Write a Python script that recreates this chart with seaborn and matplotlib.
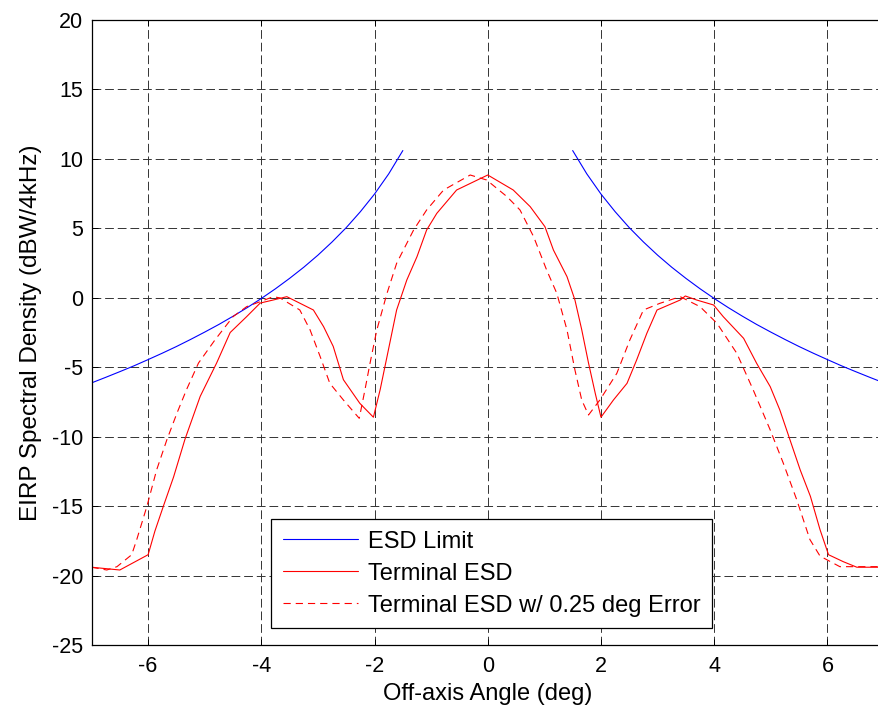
import matplotlib
matplotlib.use("Agg")
import matplotlib.pyplot as plt
import seaborn as sns

# ESD limit mask, read at positive off-axis angles (mirrored for negative side)
limit_angle = [1.5, 1.75, 2.0, 2.25, 2.5, 2.75, 3.0, 3.25, 3.5, 3.75, 4.0, 4.25,
               4.5, 4.75, 5.0, 5.25, 5.5, 5.75, 6.0, 6.25, 6.5, 6.75, 7.0]
limit_value = [10.60, 8.92, 7.47, 6.20, 5.05, 4.02, 3.07, 2.20, 1.40, 0.65, -0.05, -0.71,
               -1.33, -1.92, -2.47, -3.00, -3.51, -3.99, -4.45, -4.90, -5.32, -5.73, -6.13]

# Terminal ESD
term_angle = [-7.0, -6.5, -6.0, -5.88, -5.73, -5.55, -5.35, -5.08, -4.79, -4.55, -4.26,
              -4.02, -3.79, -3.55, -3.08, -2.9, -2.73, -2.55, -2.26, -2.02, -1.9, -1.78,
              -1.61, -1.43, -1.25, -1.08, -0.9, -0.55, 0.0, 0.45, 0.75, 1.01, 1.16, 1.4,
              1.54, 1.66, 1.78, 1.9, 2.0, 2.22, 2.46, 2.63, 2.81, 2.99, 3.4, 3.49, 3.69,
              3.99, 4.16, 4.52, 4.75, 4.99, 5.16, 5.34, 5.52, 5.7, 5.87, 6.02, 6.28, 6.52, 7.0]
term_value = [-19.4, -19.6, -18.5, -16.8, -15.0, -12.9, -10.2, -7.1, -4.7, -2.5, -1.36,
              -0.38, -0.16, 0.08, -0.88, -2.08, -3.5, -5.9, -7.6, -8.6, -6.6, -4.24,
              -0.88, 1.28, 2.96, 4.88, 6.08, 7.76, 8.84, 7.76, 6.56, 5.12, 3.44, 1.52,
              -0.16, -2.3, -4.7, -6.9, -8.6, -7.36, -6.16, -4.48, -2.56, -0.88, -0.16, 0.13, -0.16,
              -0.52, -1.36, -2.92, -4.72, -6.4, -8.08, -10.24, -12.4, -14.3, -16.7, -18.5, -19.0, -19.4, -19.4]

# Terminal ESD with 0.25 deg pointing error
err_angle = [-7.0, -6.73, -6.55, -6.29, -6.2, -6.02, -5.85, -5.67, -5.49, -5.32, -5.11,
             -4.82, -4.5, -4.26, -4.02, -3.79, -3.67, -3.32, -3.14, -2.96, -2.79, -2.55,
             -2.27, -2.17, -2.08, -1.96, -1.78, -1.61, -1.31, -1.08, -0.78, -0.31, -0.02,
             0.34, 0.57, 0.81, 1.04, 1.22, 1.4, 1.54, 1.66, 1.78, 1.98, 2.28, 2.51, 2.75,
             3.04, 3.4, 3.75, 4.05, 4.4, 4.69, 4.99, 5.22, 5.46, 5.69, 5.87, 6.22, 7.0]
err_value = [-19.4, -19.6, -19.36, -18.5, -17.4, -15.0, -12.4, -10.24, -8.3, -6.6, -4.7,
             -3.04, -1.36, -0.64, -0.28, 0.08, -0.01, -0.88, -2.3, -4.24, -6.16, -7.36,
             -8.68, -6.64, -4.72, -2.32, 0.32, 2.48, 4.88, 6.32, 7.76, 8.84, 8.48,
             7.28, 6.32, 4.4, 2.0, 0.32, -2.32, -5.2, -7.36, -8.44, -7.36, -5.44, -3.04, -0.88,
             -0.4, 0.08, -0.64, -1.84, -4.0, -6.64, -9.52, -11.9, -14.56, -17.4, -18.6, -19.36, -19.36]

x_ticks = [-6, -4, -2, 0, 2, 4, 6]
y_ticks = [-25, -20, -15, -10, -5, 0, 5, 10, 15, 20]

sns.set_style("ticks")
plt.rcParams["font.family"] = ["Liberation Sans", "DejaVu Sans"]
plt.rcParams["axes.unicode_minus"] = False
plt.rcParams["text.color"] = "black"
plt.rcParams["axes.labelcolor"] = "black"

fig = plt.figure(figsize=(8.79, 7.07), dpi=100)
ax = fig.add_axes([0.1041, 0.0877, 0.9016, 0.884])

sns.lineplot(x=[-a for a in limit_angle], y=limit_value, ax=ax, color="blue",
             lw=0.8, sort=False, estimator=None)
sns.lineplot(x=limit_angle, y=limit_value, ax=ax, color="blue", lw=0.8,
             sort=False, estimator=None, label="ESD Limit")
sns.lineplot(x=term_angle, y=term_value, ax=ax, color="red", lw=0.8,
             sort=False, estimator=None, label="Terminal ESD")
sns.lineplot(x=err_angle, y=err_value, ax=ax, color="red", lw=0.8,
             linestyle=(0, (6.5, 4.5)), sort=False, estimator=None,
             label="Terminal ESD w/ 0.25 deg Error")

ax.set_xlim(-7, 7)
ax.set_ylim(-25, 20)
ax.set_xticks(x_ticks)
ax.set_yticks(y_ticks)
ax.grid(True, color="#333333", lw=0.7, ls=(0, (9, 4)))
ax.tick_params(direction="in", length=4, width=0.7, top=True, right=True,
               labelsize=15.5, colors="black")
ax.tick_params(axis="x", pad=8)
ax.tick_params(axis="y", pad=6)
for s in ax.spines.values():
    s.set_color("black")
    s.set_linewidth(0.9)

ax.set_xlabel("Off-axis Angle (deg)", fontsize=17, labelpad=4)
ax.set_ylabel("EIRP Spectral Density (dBW/4kHz)", fontsize=17.5, labelpad=7)

leg = ax.legend(loc="lower left", bbox_to_anchor=(0.2265, 0.0267), borderaxespad=0,
                fontsize=17, fancybox=False, framealpha=1, edgecolor="black",
                handlelength=3.2, handletextpad=0.4, labelspacing=0.42,
                borderpad=0.5)
leg.get_frame().set_linewidth(0.9)

fig.savefig("out.png", dpi=100)
